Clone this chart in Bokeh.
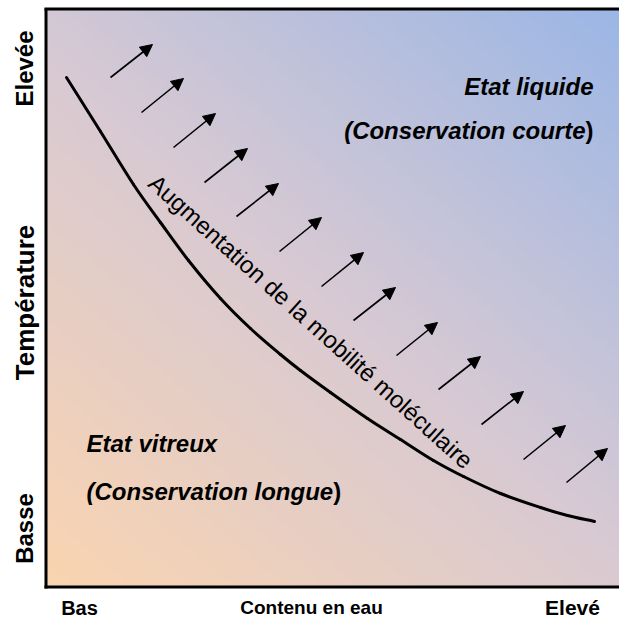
import numpy as np
from bokeh.plotting import figure
from bokeh.models import Range1d, ColumnDataSource, Arrow, NormalHead
from bokeh.core.properties import value
from bokeh.embed import file_html
from bokeh.resources import INLINE

# ---------------- data (x right, y downward, reference pixels)
curve_water = [66, 100, 133, 160, 188, 220, 250, 280, 300, 330, 367, 400, 433, 463, 500, 540, 567, 594]
curve_temp = [77, 131, 184, 222, 260, 298, 328, 354, 370, 392, 418, 439, 460, 476, 493, 507, 515, 521]

arrow_x0 = [110, 141, 173, 204, 236, 279, 321, 353, 396, 438, 481, 523, 566]
arrow_y0 = [77, 112, 147, 182, 216, 251, 286, 320, 355, 389, 424, 459, 482]
arrow_x1 = [152, 183, 215, 247, 278, 321, 363, 395, 437, 480, 523, 565, 607]
arrow_y1 = [44, 78, 113, 148, 183, 217, 252, 287, 322, 356, 391, 425, 448]

y_axis_texts = ["Elevée", "Température", "Basse"]
x_axis_texts = ["Bas", "Contenu en eau", "Elevé"]
curve_label = "Augmentation de la mobilité moléculaire"

REF_W, REF_H = 619, 621
PW, PH = 619, 621
S = PW / REF_W  # screen px per reference px


def Y(v):
    return REF_H - np.asarray(v, dtype=float)


FONT = value("Liberation Sans")


def fs(px):
    return value(f"{px * S:.1f}px")


p = figure(width=PW, height=PH, x_range=Range1d(0, REF_W), y_range=Range1d(0, REF_H),
           output_backend="svg", toolbar_location=None, min_border=0,
           x_axis_location=None, y_axis_location=None)
p.grid.visible = False
p.outline_line_color = None
p.background_fill_color = "white"
p.border_fill_color = "white"

# ---------------- gradient background (plot area)
gx0, gx1, gy0, gy1 = 45, 619, 8, 586
gw, gh = 300, 300
u = np.linspace(0, 1, gw)[None, :]
v = np.linspace(0, 1, gh)[:, None]  # row 0 at bottom
t = 0.46 * u + 0.54 * v
stops = [0.0, 0.5, 1.0]
cols = np.array([[250, 212, 176], [215, 201, 211], [155, 182, 229]], dtype=float)
img = np.empty((gh, gw), dtype=np.uint32)
view = img.view(dtype=np.uint8).reshape((gh, gw, 4))
for k in range(3):
    view[:, :, k] = np.round(np.interp(t, stops, cols[:, k])).astype(np.uint8)
view[:, :, 3] = 255
p.image_rgba(image=[img], x=gx0, y=REF_H - gy1, dw=gx1 - gx0, dh=gy1 - gy0)

# ---------------- frame lines
p.segment(x0=[45.5, 44, 44], y0=Y([8, 586.5, 8.5]), x1=[45.5, 619, 619], y1=Y([588, 586.5, 8.5]),
          line_color="black", line_width=3 * S)

# ---------------- curve (smooth Bezier through the read points)
P = np.column_stack([np.asarray(curve_water, float), Y(curve_temp)])
n = len(P)
M = np.zeros_like(P)
M[1:-1] = (P[2:] - P[:-2]) / 2
M[0] = P[1] - P[0]
M[-1] = P[-1] - P[-2]
C0 = P[:-1] + M[:-1] / 3
C1 = P[1:] - M[1:] / 3
p.bezier(x0=P[:-1, 0], y0=P[:-1, 1], x1=P[1:, 0], y1=P[1:, 1],
         cx0=C0[:, 0], cy0=C0[:, 1], cx1=C1[:, 0], cy1=C1[:, 1],
         line_color="black", line_width=3 * S, line_cap="round")

# ---------------- arrows
src = ColumnDataSource(dict(x0=arrow_x0, y0=Y(arrow_y0), x1=arrow_x1, y1=Y(arrow_y1)))
p.add_layout(Arrow(end=NormalHead(size=12 * S, fill_color="black", line_color="black", line_width=1),
                   x_start="x0", y_start="y0", x_end="x1", y_end="y1", source=src,
                   line_color="black", line_width=1.6))

# ---------------- axis texts
for lx, ly, txt, size in [(24, 68, y_axis_texts[0], 24), (24, 302, y_axis_texts[1], 26),
                          (24, 528, y_axis_texts[2], 24)]:
    p.text(x=[lx], y=Y([ly]), text=[txt], angle=np.pi / 2,
           text_align="center", text_baseline="middle", text_font=FONT,
           text_font_style="bold", text_font_size=fs(size), text_color="black")
for lx, txt, size in [(79, x_axis_texts[0], 20), (311, x_axis_texts[1], 19), (572, x_axis_texts[2], 21)]:
    p.text(x=[lx], y=Y([607]), text=[txt],
           text_align="center", text_baseline="middle", text_font=FONT,
           text_font_style="bold", text_font_size=fs(size), text_color="black")

# ---------------- region labels
FS_R = 24
p.text(x=[593], y=Y([86]), text=["Etat liquide"], text_align="right", text_baseline="middle",
       text_font=FONT, text_font_style="bold italic", text_font_size=fs(FS_R))
p.text(x=[593 - 0.333 * FS_R], y=Y([130]), text=["(Conservation courte"], text_align="right",
       text_baseline="middle", text_font=FONT, text_font_style="bold italic", text_font_size=fs(FS_R))
p.text(x=[593], y=Y([130]), text=[")"], text_align="right", text_baseline="middle",
       text_font=FONT, text_font_style="bold", text_font_size=fs(FS_R))
p.text(x=[86], y=Y([443]), text=["Etat vitreux"], text_align="left", text_baseline="middle",
       text_font=FONT, text_font_style="bold italic", text_font_size=fs(FS_R))
p.text(x=[86], y=Y([491]), text=["(Conservation longue"], text_align="left", text_baseline="middle",
       text_font=FONT, text_font_style="bold italic", text_font_size=fs(FS_R))
p.text(x=[86 + 10.279 * FS_R], y=Y([491]), text=[")"], text_align="left", text_baseline="middle",
       text_font=FONT, text_font_style="bold", text_font_size=fs(FS_R))

# ---------------- slanted label along the curve (char by char)
em = {'A': .667, 'u': .556, 'g': .556, 'm': .833, 'e': .556, 'n': .556, 't': .278, 'a': .556,
      'i': .222, 'o': .556, ' ': .278, 'd': .556, 'l': .222, 'b': .556, 'é': .556, 'c': .5, 'r': .333}
first_c = np.array([158.0, REF_H - 184.0])   # centre of first letter
last_c = np.array([464.0, REF_H - 459.0])    # centre of last letter
vec = last_c - first_c
span = np.linalg.norm(vec)
dirv = vec / span
widths = np.array([em[c] for c in curve_label])
span_em = widths.sum() - widths[0] / 2 - widths[-1] / 2
FS_C = span / span_em
theta = float(np.arctan2(dirv[1], dirv[0]))
cx, cy, ct = [], [], []
cum = 0.0
for ch, w in zip(curve_label, widths):
    if ch != ' ':
        dist = (cum + w / 2 - widths[0] / 2) * FS_C
        cx.append(float(first_c[0] + dist * dirv[0]))
        cy.append(float(first_c[1] + dist * dirv[1]))
        ct.append(ch)
    cum += w
p.text(x=cx, y=cy, text=ct, angle=theta, text_align="center", text_baseline="middle",
       text_font=FONT, text_font_size=fs(FS_C), text_color="black")

open("out.html", "w").write(file_html(p, INLINE))
